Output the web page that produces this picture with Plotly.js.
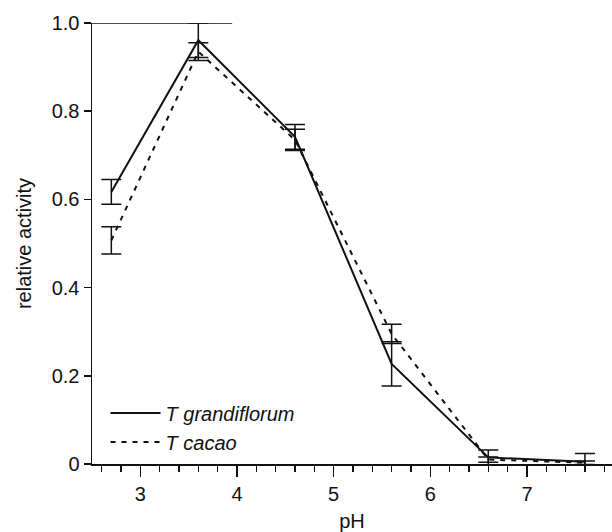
<!DOCTYPE html>
<html>
<head>
<meta charset="utf-8">
<script src="https://cdn.plot.ly/plotly-3.0.1.min.js"></script>
<style>
  html, body { margin: 0; padding: 0; background: #fff; }
  #chart { width: 612px; height: 532px; }
</style>
</head>
<body>
<div id="chart"></div>
<script>
// Data
const pH = [2.7, 3.6, 4.6, 5.6, 6.6, 7.6];
const grandiflorum = [0.617, 0.961, 0.742, 0.227, 0.015, 0.005];
const grandiflorumErr = [0.028, 0.039, 0.028, 0.05, 0.017, 0.019];
const cacao = [0.507, 0.935, 0.735, 0.295, 0.010, 0.003];
const cacaoErr = [0.031, 0.02, 0.024, 0.022, 0.006, 0.004];
const seriesNames = ["T grandiflorum", "T cacao"];
const yTickVals = [0, 0.2, 0.4, 0.6, 0.8, 1.0];
const yTickText = ["0", "0.2", "0.4", "0.6", "0.8", "1.0"];
const xTickVals = [3, 4, 5, 6, 7];
const xTickText = ["3", "4", "5", "6", "7"];

const FONT = "Liberation Sans, Arial, sans-serif";
const INK = "#111";

const traces = [
  {
    x: pH, y: grandiflorum, name: seriesNames[0], type: "scatter", mode: "lines",
    line: { color: INK, width: 2 },
    error_y: { type: "data", array: grandiflorumErr, visible: true, color: INK, thickness: 1.5, width: 10 },
    cliponaxis: false
  },
  {
    x: pH, y: cacao, name: seriesNames[1], type: "scatter", mode: "lines",
    line: { color: INK, width: 2, dash: "5px,6px" },
    error_y: { type: "data", array: cacaoErr, visible: true, color: INK, thickness: 1.5, width: 10 },
    cliponaxis: false
  }
];

const layout = {
  width: 612, height: 532,
  margin: { l: 92, r: 0, t: 23, b: 68 },
  paper_bgcolor: "#fff", plot_bgcolor: "#fff",
  font: { family: FONT, size: 20, color: INK },
  showlegend: true,
  legend: {
    x: 0.026, y: 0.16, xanchor: "left", yanchor: "top",
    font: { family: FONT, size: 20, color: INK, style: "italic" },
    bgcolor: "rgba(0,0,0,0)", itemwidth: 50, tracegroupgap: 0
  },
  xaxis: {
    range: [2.5, 7.88], showgrid: false, zeroline: false,
    showline: true, linecolor: INK, linewidth: 1.5,
    tickmode: "array", tickvals: xTickVals, ticktext: xTickText,
    ticks: "outside", ticklen: 11, tickwidth: 1.5, tickcolor: INK,
    tickfont: { family: FONT, size: 20, color: INK },
    minor: { dtick: 0.2, tick0: 2.6, ticks: "outside", ticklen: 6, tickwidth: 1.5, tickcolor: INK, showgrid: false },
    title: { text: "pH", font: { family: FONT, size: 20, color: INK }, standoff: 12 }
  },
  yaxis: {
    range: [0, 1], showgrid: false, zeroline: false,
    showline: true, linecolor: INK, linewidth: 1.5,
    tickmode: "array", tickvals: yTickVals, ticktext: yTickText,
    ticks: "outside", ticklen: 7, tickwidth: 1.5, tickcolor: INK,
    tickfont: { family: FONT, size: 20, color: INK },
    title: { text: "relative activity", font: { family: FONT, size: 20, color: INK }, standoff: 14 }
  },
  shapes: [
    { type: "line", xref: "x", yref: "y", x0: 2.5, x1: 3.95, y0: 1, y1: 1, line: { color: INK, width: 1.5 } }
  ]
};

Plotly.newPlot("chart", traces, layout, { displayModeBar: false, staticPlot: true });
</script>
</body>
</html>
